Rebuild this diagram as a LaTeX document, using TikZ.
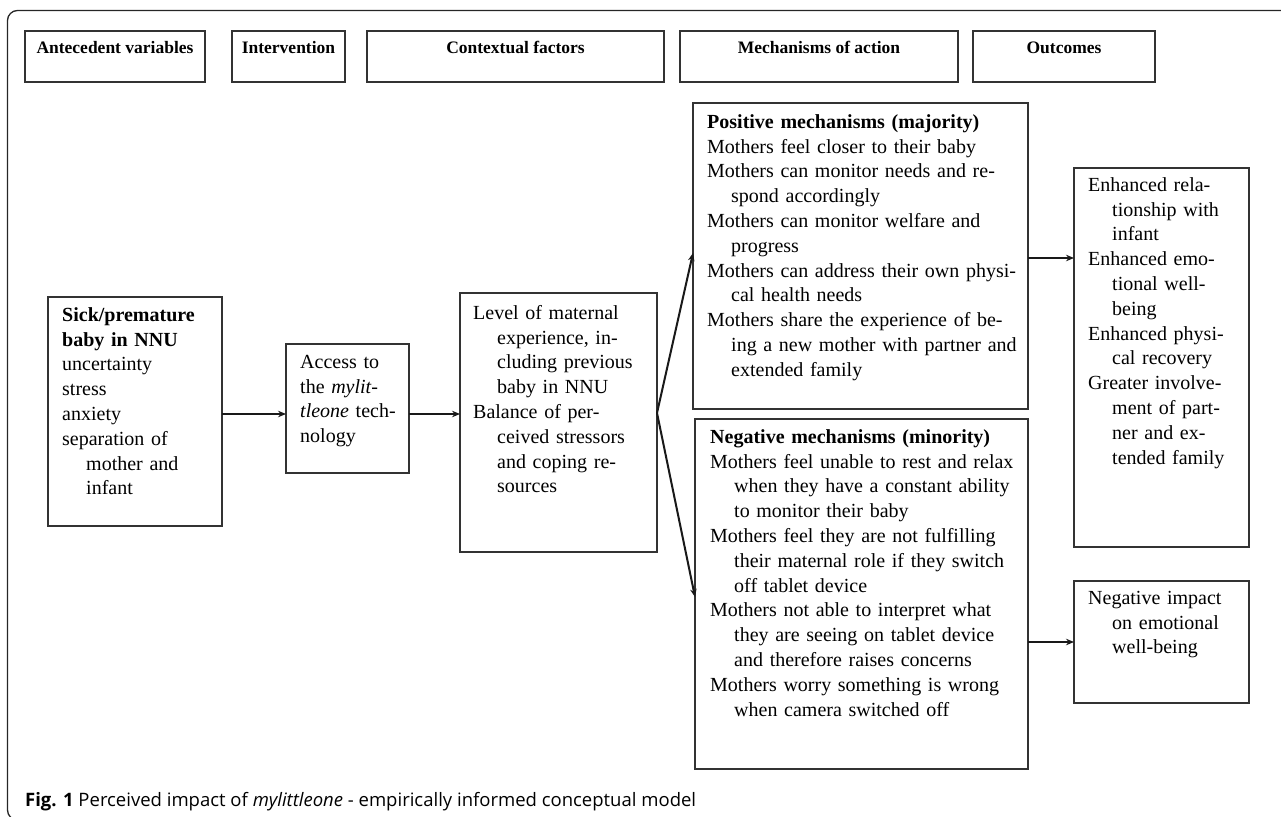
\documentclass[tikz,border=0pt]{standalone}
\usepackage{fontspec}
\setmainfont{Liberation Serif}
\newfontfamily\capfont{Open Sans}
\usetikzlibrary{arrows.meta,calc}
\newcommand\hind{\hspace*{24pt}}
\newcommand\topst{\rule{0pt}{17.3pt}}
\tikzset{
  boxst/.style={draw=black!80, line width=1.8pt, inner sep=0pt, outer sep=0pt},
  head/.style={anchor=base, inner sep=0pt, font=\fontsize{17.5}{20}\selectfont\bfseries},
  txt/.style={anchor=north west, inner sep=0pt, align=left, text width=360pt,
              font=\fontsize{20}{24.8}\selectfont},
  arr/.style={line width=2pt, draw=black!90, -{Stealth[length=8pt,width=6.5pt]}},
  frame/.style={draw=black!85, line width=1.3pt, rounded corners=10pt}
}
\newcommand\boxnode[5]{%
  \node[boxst, minimum width={#4-#2}, minimum height={#5-#3}] (#1) at ({(#2+#4)/2},{(#3+#5)/2}) {};}
\begin{document}
\begin{tikzpicture}[x=1pt,y=-1pt]
\useasboundingbox (0,0) rectangle (1281,816);
% outer frame
\draw[frame] (1300,10.5) -- (7.5,10.5) -- (7.5,820) -- (40,820);
% header boxes
\boxnode{h1}{25}{31}{205}{82}
\boxnode{h2}{232}{31}{345}{82}
\boxnode{h3}{367}{31}{664}{82}
\boxnode{h4}{680}{31}{958}{82}
\boxnode{h5}{973}{31}{1155}{82}
\node[head] (t1) at (h1.center |- 0,54) {Antecedent variables};
\node[head] (t2) at (h2.center |- 0,54) {Intervention};
\node[head] (t3) at (h3.center |- 0,54) {Contextual factors};
\node[head] (t4) at (h4.center |- 0,54) {Mechanisms of action};
\node[head] (t5) at (h5.center |- 0,54) {Outcomes};
% content boxes
\boxnode{sick}{48}{297}{222}{526}
\boxnode{access}{286}{344}{409}{473}
\boxnode{ctx}{460}{293}{657}{552}
\boxnode{pos}{693}{103}{1028}{409}
\boxnode{neg}{695}{419}{1028}{769}
\boxnode{out1}{1074}{168}{1249}{547}
\boxnode{out2}{1074}{581}{1249}{703}
% texts
\node[txt] (sicktxt) at (62,303.7) {\topst\textbf{Sick/premature}\\\textbf{baby in NNU}\\uncertainty\\stress\\anxiety\\separation of\\\hind mother and\\\hind infant};
\node[txt] (accesstxt) at (300,350.7) {\topst Access to\\the \textit{mylit-}\\\textit{tleone} tech-\\nology};
\node[txt] (ctxtxt) at (473,301.7) {\topst Level of maternal\\\hind experience, in-\\\hind cluding previous\\\hind baby in NNU\\Balance of per-\\\hind ceived stressors\\\hind and coping re-\\\hind sources};
\node[txt] (postxt) at (707,110.7) {\topst\textbf{Positive mechanisms (majority)}\\Mothers feel closer to their baby\\Mothers can monitor needs and re-\\\hind spond accordingly\\Mothers can monitor welfare and\\\hind progress\\Mothers can address their own physi-\\\hind cal health needs\\Mothers share the experience of be-\\\hind ing a new mother with partner and\\\hind extended family};
\node[txt] (negtxt) at (710,425.7) {\topst\textbf{Negative mechanisms (minority)}\\Mothers feel unable to rest and relax\\\hind when they have a constant ability\\\hind to monitor their baby\\Mothers feel they are not fulfilling\\\hind their maternal role if they switch\\\hind off tablet device\\Mothers not able to interpret what\\\hind they are seeing on tablet device\\\hind and therefore raises concerns\\Mothers worry something is wrong\\\hind when camera switched off};
\node[txt] (out1txt) at (1088,173.7) {\topst Enhanced rela-\\\hind tionship with\\\hind infant\\Enhanced emo-\\\hind tional well-\\\hind being\\Enhanced physi-\\\hind cal recovery\\Greater involve-\\\hind ment of part-\\\hind ner and ex-\\\hind tended family};
\node[txt] (out2txt) at (1088,586.7) {\topst Negative impact\\\hind on emotional\\\hind well-being};
% connectors
\coordinate (yA) at (0,414);
\coordinate (fork) at (657,413);
\coordinate (posin) at (693,253);
\coordinate (negin) at (695,597);
\coordinate (yP) at (0,258);
\draw[arr] (sick.east |- yA) -- (access.west |- yA);
\draw[arr] (access.east |- yA) -- (ctx.west |- yA);
\draw[arr] (fork) -- (posin);
\draw[arr] (fork) -- (negin);
\draw[arr] (pos.east |- yP) -- (out1.west |- yP);
\draw[arr] (neg.east |- out2.west) -- (out2.west);
% caption
\node[anchor=base west, inner sep=0pt, font=\capfont\fontsize{18.5}{20}\selectfont] (cap) at (25,806) {\textbf{Fig. 1} Perceived impact of \textit{mylittleone} - empirically informed conceptual model};
\end{tikzpicture}
\end{document}
